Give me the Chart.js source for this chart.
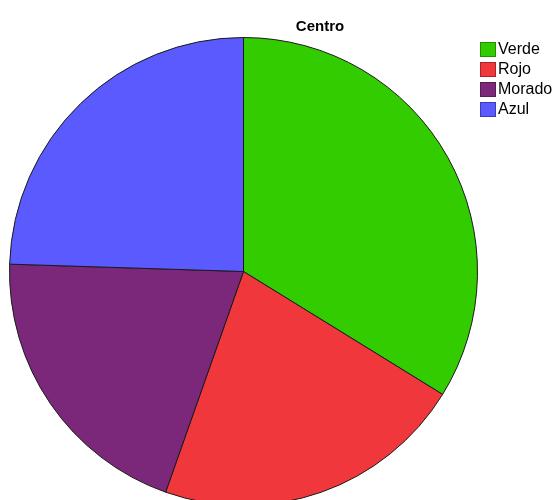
<!DOCTYPE html>
<html>
<head>
<meta charset="utf-8">
<script src="https://cdn.jsdelivr.net/npm/chart.js@4/dist/chart.umd.min.js"></script>
<style>
    html, body { margin: 0; padding: 0; background: #fff; overflow: hidden; }
    #wrap { position: relative; width: 553px; height: 500px; overflow: hidden; }
    #myChart { position: absolute; left: 0; top: 0; }
    #titulo {
        position: absolute; left: 270px; top: 17px; width: 100px; text-align: center;
        font: bold 15px "Liberation Sans", Arial, sans-serif; color: #000;
    }
    #leyenda { position: absolute; left: 480px; top: 39px; font: 16px "Liberation Sans", Arial, sans-serif; color: #000; }
    .item { height: 20px; display: flex; align-items: center; }
    .caja { width: 16px; height: 15px; box-sizing: border-box; border: 1px solid rgba(0,0,0,0.3); margin-right: 2px; }
</style>
</head>
<body>
<div id="wrap">
    <canvas id="myChart" width="553" height="510"></canvas>
    <div id="titulo">Centro</div>
    <div id="leyenda"></div>
</div>
<script>
const categorias = ['Verde', 'Rojo', 'Morado', 'Azul'];
const valores = [33.8, 21.6, 20.1, 24.5];
const colores = ['#33cc00', '#f0383c', '#7b287b', '#5a5aff'];

const leyenda = document.getElementById('leyenda');
categorias.forEach((nombre, i) => {
    leyenda.innerHTML += `<div class="item"><span class="caja" style="background:${colores[i]}"></span>${nombre}</div>`;
});

const ctx = document.getElementById('myChart').getContext('2d');
window.grafica = new Chart(ctx, {
    type: 'pie',
    data: {
        labels: categorias,
        datasets: [{
            data: valores,
            backgroundColor: colores,
            borderColor: '#1a1a1a',
            borderWidth: 1
        }]
    },
    options: {
        responsive: false,
        animation: false,
        devicePixelRatio: 1,
        layout: {
            padding: { left: 9, right: 75, top: 37, bottom: 4 }
        },
        plugins: {
            legend: { display: false },
            title: { display: false },
            tooltip: { enabled: false }
        }
    }
});
</script>
</body>
</html>
